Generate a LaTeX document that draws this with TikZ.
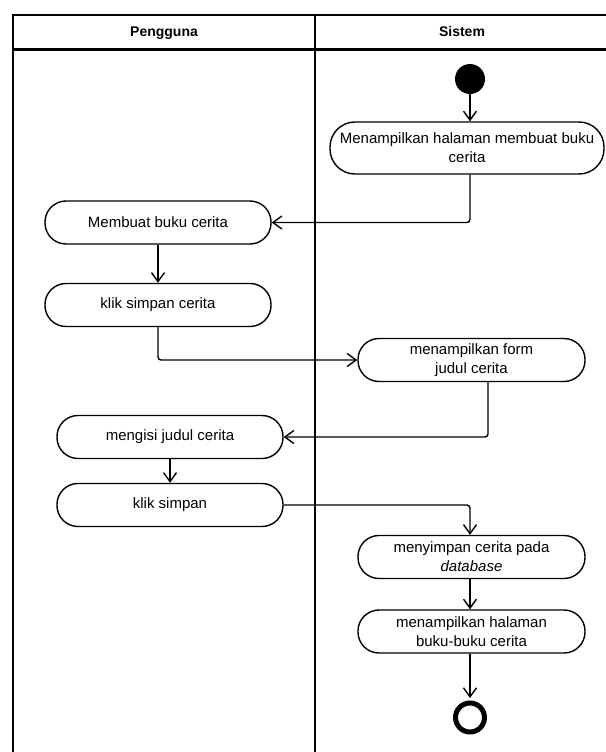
\documentclass[tikz,border=0pt]{standalone}
\usepackage{fontspec}
\setmainfont{Liberation Sans}
\usetikzlibrary{arrows.meta}
\begin{document}
\begin{tikzpicture}[x=1pt,y=-1pt,
  act/.style={draw,line width=1.4pt,rounded corners=21pt,minimum width=226pt,minimum height=43pt,
    align=center,font=\fontsize{15}{19}\selectfont,inner sep=0pt},
  flow/.style={line width=1.4pt,-{Straight Barb[length=9pt,width=13pt,line width=1.4pt]},rounded corners=3pt},
  lane/.style={line width=2pt},
  head/.style={font=\bfseries\fontsize{14}{16}\selectfont,inner sep=0pt,anchor=base}]
\useasboundingbox (0,0) rectangle (605,752);
% swimlane frame
\draw[lane] (13,752) -- (13,15) -- (606,15);
\draw[line width=3pt] (13,50) -- (606,50);
\draw[lane] (315,15) -- (315,752);
\node[head] (h1) at (164,37) {Pengguna};
\node[head] (h2) at (462,37) {Sistem};
% nodes
\node[circle,fill,minimum size=30pt,inner sep=0pt] (s) at (470,79) {};
\node[act,minimum width=274pt,minimum height=52pt,rounded corners=25pt] (a) at (467,148) {Menampilkan halaman membuat buku\\cerita};
\node[act] (b) at (158,222.5) {Membuat buku cerita};
\node[act] (c) at (158,305) {klik simpan cerita};
\node[act,minimum width=227pt] (d) at (471.5,360) {menampilkan form\\judul cerita};
\node[act] (e) at (170,437) {mengisi judul cerita};
\node[act] (f) at (170,505) {klik simpan};
\node[act,minimum width=227pt] (g) at (471.5,557) {menyimpan cerita pada\\\textit{database}};
\node[act,minimum width=227pt] (h) at (471.5,631.5) {menampilkan halaman\\buku-buku cerita};
\node[circle,draw,line width=5pt,minimum size=29pt,inner sep=0pt] (end) at (470,717.5) {};
% connectors
\draw[flow] (s) -- ([xshift=3pt]a.north);
\draw[flow] ([xshift=3pt]a.south) |- (b.east);
\draw[flow] (b) -- (c);
\draw[flow] (c.south) |- (d.west);
\draw[flow] ([xshift=16.5pt]d.south) |- (e.east);
\draw[flow] (e) -- (f);
\draw[flow] (f.east) -| ([xshift=-1.5pt]g.north);
\draw[flow] ([xshift=-1.5pt]g.south) -- ([xshift=-1.5pt]h.north);
\draw[flow,shorten >=2.5pt] ([xshift=-1.5pt]h.south) -- (end.north);
\end{tikzpicture}
\end{document}
